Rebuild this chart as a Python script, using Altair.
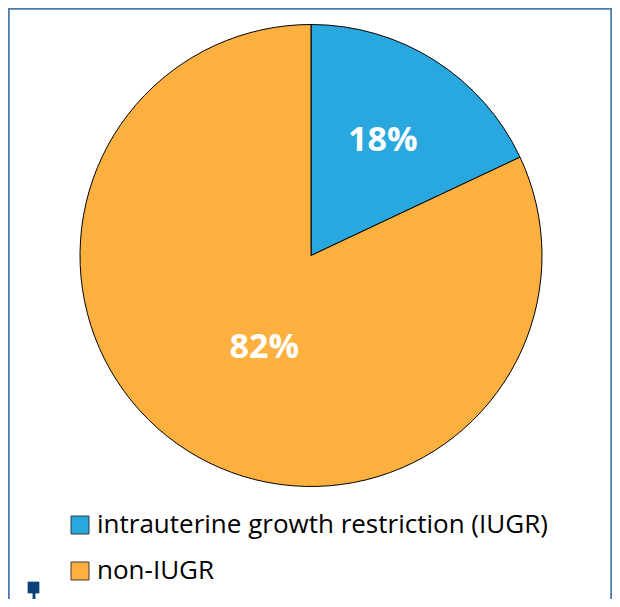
import altair as alt
import pandas as pd
import math

categories = ["intrauterine growth restriction (IUGR)", "non-IUGR"]
shares = [18, 82]
labels = ["18%", "82%"]
colors = ["#29A8E0", "#FBB040"]
order = [1, 2]

df = pd.DataFrame({"category": categories, "share": shares, "label": labels, "order": order})

W, H = 604, 591
CX, CY, R = 303, 247.5, 231
TWO_PI = 2 * math.pi

theta_scale = alt.Scale(domain=[0, 100], range=[0, TWO_PI])
color_scale = alt.Scale(domain=categories, range=colors)

base = alt.Chart(df)

pie = base.mark_arc(radius=R, stroke="#000000", strokeWidth=1).encode(
    theta=alt.Theta("share:Q", stack=True, scale=theta_scale),
    color=alt.Color(
        "category:N",
        scale=color_scale,
        sort=categories,
        legend=alt.Legend(
            title=None,
            orient="none",
            legendX=59,
            legendY=504,
            symbolType="square",
            symbolSize=324,
            symbolStrokeColor="#3a3a3a",
            symbolStrokeWidth=1,
            symbolOpacity=1,
            labelFont="Open Sans",
            labelFontSize=26,
            labelColor="#000000",
            labelOffset=4,
            rowPadding=20,
            padding=0,
            labelLimit=600,
        ),
    ),
    order=alt.Order("order:Q"),
    x=alt.value(CX),
    y=alt.value(CY),
)

def label_layer(cat, radius, dx=0, dy=0):
    return (
        base.transform_stack(stack="share", as_=["s0", "s1"], groupby=[], sort=[alt.SortField("order")])
        .transform_calculate(mid="(datum.s0 + datum.s1) / 2")
        .transform_filter(alt.datum.category == cat)
        .mark_text(
            radius=radius, font="Open Sans", fontWeight="bold", fontSize=34,
            color="white", align="center", baseline="middle", dx=dx, dy=dy,
        )
        .encode(
            theta=alt.Theta("mid:Q", scale=theta_scale),
            text="label:N",
            x=alt.value(CX),
            y=alt.value(CY),
        )
    )

lab1 = label_layer(categories[0], 136, -1, 0)
lab2 = label_layer(categories[1], 104, 9, 5)

frame_color = "#4a7aab"
left = base.mark_rule(color=frame_color, strokeWidth=1.5).encode(
    x=alt.value(0.75), y=alt.value(0), y2=alt.value(H))
top = base.mark_rule(color=frame_color, strokeWidth=1.5).encode(
    x=alt.value(0), x2=alt.value(W), y=alt.value(0.75))
right = base.mark_rule(color=frame_color, strokeWidth=1.5).encode(
    x=alt.value(W - 0.75), y=alt.value(0), y2=alt.value(H))

marker_color = "#0b4179"
mark_sq = base.mark_square(color=marker_color, opacity=1, size=130).encode(
    x=alt.value(25.5), y=alt.value(579.5))
mark_line = base.mark_rule(color=marker_color, strokeWidth=2.5).encode(
    x=alt.value(26), y=alt.value(584), y2=alt.value(H))

chart = alt.layer(pie, lab1, lab2, left, top, right, mark_sq, mark_line).properties(
    width=W, height=H, padding=0, autosize=alt.AutoSizeParams(type="none"),
).configure_view(stroke=None)

chart.save("out.html", embed_options={"renderer": "svg", "actions": False})
